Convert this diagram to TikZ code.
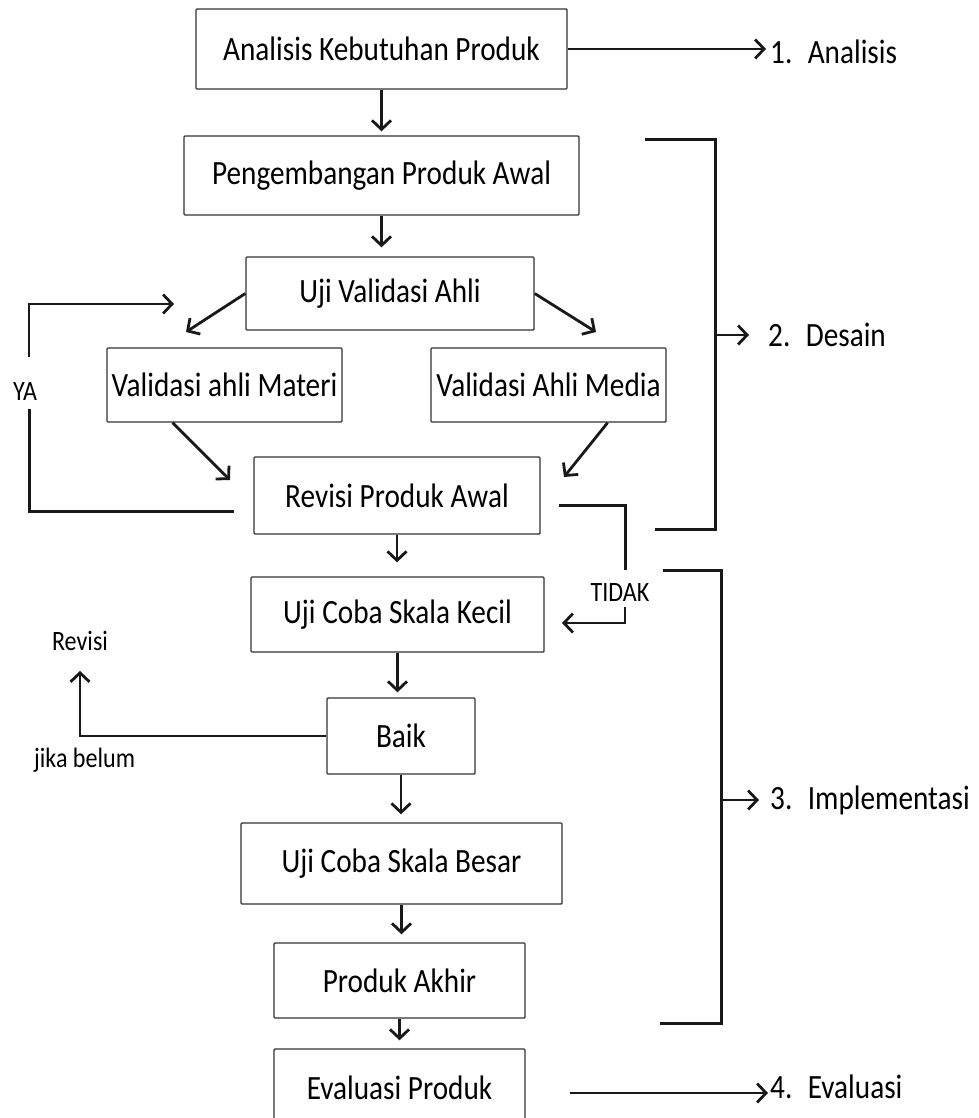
\documentclass[tikz,border=0pt]{standalone}
\usepackage{fontspec}
\setmainfont{Carlito}[FakeStretch=0.86]
\usetikzlibrary{arrows.meta,calc}
\newcommand{\bigtext}{\fontsize{34}{38}\selectfont}
\newcommand{\smalltext}{\fontsize{28}{32}\selectfont}
\tikzset{
  stage/.style={draw=black!80, line width=1.4pt, rounded corners=1pt, inner sep=0pt, align=center, font=\bigtext},
  phase/.style={anchor=west, inner sep=0pt, font=\bigtext},
  note/.style={inner sep=0pt, font=\smalltext},
  arrow/.style={-{Straight Barb[length=9pt,width=19pt]}, line width=2.8pt, black!90},
  bracket/.style={line width=3pt, black!90, line join=miter}
}
\begin{document}
\begin{tikzpicture}[x=1pt,y=-1pt]
  \useasboundingbox (0,0) rectangle (978,1118);
  % main column
  \node[stage, minimum width=371, minimum height=80] (analisis) at (381.5,49) {Analisis Kebutuhan Produk};
  \node[stage, minimum width=395, minimum height=79] (awal) at (381.5,175.5) {Pengembangan Produk Awal};
  \node[stage, minimum width=288, minimum height=73] (validasi) at (390,293.5) {Uji Validasi Ahli};
  \node[stage, minimum width=235, minimum height=74] (materi) at (224.5,385) {Validasi ahli Materi};
  \node[stage, minimum width=235, minimum height=74] (media) at (548.5,385) {Validasi Ahli Media};
  \node[stage, minimum width=286, minimum height=77] (revisi) at (397,495.5) {Revisi Produk Awal};
  \node[stage, minimum width=293, minimum height=75] (kecil) at (397.5,614.5) {Uji Coba Skala Kecil};
  \node[stage, minimum width=148, minimum height=76] (baik) at (401,736) {Baik};
  \node[stage, minimum width=321, minimum height=81] (besar) at (401.5,863.5) {Uji Coba Skala Besar};
  \node[stage, minimum width=251, minimum height=75] (akhir) at (399.5,980.5) {Produk Akhir};
  \node[stage, minimum width=251, minimum height=78] (evaluasi) at (399.5,1088) {Evaluasi Produk};

  % phase labels
  \node[phase] (p1) at (770,52) {1.~ Analisis};
  \node[phase] (p2) at (768,335) {2.~ Desain};
  \node[phase] (p3) at (770,800) {3.~ Implementasi};
  \node[phase] (p4) at (770,1087) {4.~ Evaluasi};

  % side notes
  \node[note] (ya) at (25,392) {YA};
  \node[note] (tidak) at (620,593) {TIDAK};
  \node[note] (revisilbl) at (80,641) {Revisi};
  \node[note, anchor=west] (belum) at (34,760) {jika belum};

  % free ends
  \coordinate (toMateri) at (186,332);
  \coordinate (toMedia) at (596,332);
  \coordinate (fromMateri) at ($(materi.south west)!0.28!(materi.south east)$);
  \coordinate (fromMedia) at ($(media.south west)!0.75!(media.south east)$);
  \coordinate (revIn1) at (230,480);
  \coordinate (revIn2) at (564,477);
  \coordinate (yaStart) at (234,511);
  \coordinate (yaEnd) at (174,304);
  \coordinate (tdStart) at (559,505);
  \coordinate (tdEnd) at (562,623);

  % flow
  \draw[arrow, shorten >=4pt] (analisis.south) -- (awal.north);
  \draw[arrow, shorten >=9pt] (awal.south) -- (awal.south |- validasi.north);
  \draw[arrow] (validasi.west) -- (toMateri);
  \draw[arrow] (validasi.east) -- (toMedia);
  \draw[arrow] (fromMateri) -- (revIn1);
  \draw[arrow] (fromMedia) -- (revIn2);
  \draw[arrow, shorten >=14pt] (revisi.south) -- (revisi.south |- kecil.north);
  \draw[arrow, shorten >=5pt] (kecil.south) -- (kecil.south |- baik.north);
  \draw[arrow, shorten >=8pt] (baik.south) -- (baik.south |- besar.north);
  \draw[arrow, shorten >=8pt] (besar.south) -- (besar.south |- akhir.north);
  \draw[arrow, shorten >=8pt] (akhir.south) -- (evaluasi.north);

  % loops
  \draw[bracket] (yaStart) -- (29,511) -- (29,409);
  \draw[arrow] (29,357) -- (29,304) -- (yaEnd);
  \draw[bracket] (tdStart) -- (625,505) -- (625,570);
  \draw[arrow] (625,607) -- (625,623) -- (tdEnd);
  \draw[arrow, shorten >=20pt] (baik.west) -| (revisilbl.south);

  % phases
  \draw[arrow, shorten >=4pt] (analisis.east) -- (analisis.east -| p1.west);
  \draw[bracket] (645,140) -- (715,140) -- (715,529) -- (655,529);
  \draw[arrow, shorten >=19pt] (715,335) -- (p2.west);
  \draw[bracket] (663,570) -- (721,570) -- (721,1023) -- (660,1023);
  \draw[arrow, shorten >=11pt] (721,800) -- (p3.west);
  \draw[arrow, shorten >=2pt] ($(evaluasi.east)+(44,5)$) -- ($(evaluasi.east -| p4.west)+(0,5)$);
\end{tikzpicture}
\end{document}
